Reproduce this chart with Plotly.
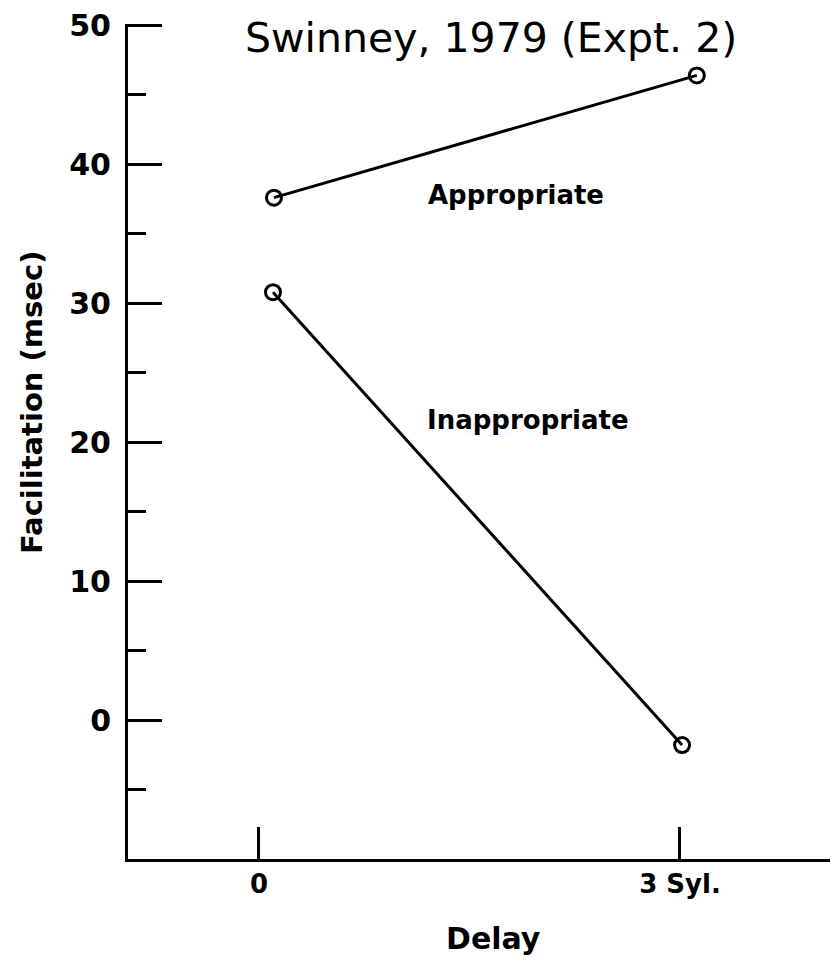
import plotly.graph_objects as go

# Delay positions as drawn (points sit slightly right of the tick marks)
appropriate_x = [0.107, 3.12]
appropriate_y = [37.6, 46.4]
inappropriate_x = [0.10, 3.015]
inappropriate_y = [30.8, -1.8]

x_tickvals = [0, 3]
x_ticktext = ["0", "3 Syl."]
y_major = [0, 10, 20, 30, 40, 50]
y_minor = [-5, 5, 15, 25, 35, 45]

FONT = "DejaVu Sans"
INK = "black"

# the page body has an 8px margin, so the figure is drawn 8px in from the corner
OFF = 8
W, H = 838 - OFF, 963 - OFF
L, R, T, B = 128 - OFF, 0, 24 - OFF, 963 - 859
pw, ph = W - L - R, H - T - B


def paper_xy(page_x, page_y):
    return (page_x - OFF - L) / pw, (H - B - (page_y - OFF)) / ph


fig = go.Figure()
for xs, ys, name in [
    (appropriate_x, appropriate_y, "Appropriate"),
    (inappropriate_x, inappropriate_y, "Inappropriate"),
]:
    fig.add_trace(
        go.Scatter(
            x=xs,
            y=ys,
            name=name,
            mode="lines+markers",
            line=dict(color=INK, width=3),
            marker=dict(symbol="circle-open", size=15, color=INK, line=dict(width=3, color=INK)),
            cliponaxis=False,
        )
    )

fig.add_annotation(x=1.83, y=37.8, text="Appropriate", showarrow=False,
                   font=dict(family=FONT, size=26, color=INK, weight="bold"))
fig.add_annotation(x=1.92, y=21.6, text="Inappropriate", showarrow=False,
                   font=dict(family=FONT, size=26, color=INK, weight="bold"))

for text, px, py, size, weight, angle in [
    ("Facilitation (msec)", 32, 403, 29, "bold", -90),
    ("Delay", 493, 938, 30, "bold", 0),
    ("Swinney, 1979 (Expt. 2)", 491, 38, 41, "normal", 0),
]:
    ax, ay = paper_xy(px, py)
    fig.add_annotation(x=ax, y=ay, xref="paper", yref="paper", text=text,
                       showarrow=False, textangle=angle,
                       xanchor="center", yanchor="middle",
                       font=dict(family=FONT, size=size, color=INK, weight=weight))

fig.update_layout(
    width=W,
    height=H,
    margin=dict(l=L, r=R, t=T, b=B),
    paper_bgcolor="white",
    plot_bgcolor="white",
    showlegend=False,
    font=dict(family=FONT, color=INK),
    xaxis=dict(
        range=[-0.933, 4.126],
        tickvals=x_tickvals,
        ticktext=x_ticktext,
        ticks="inside",
        ticklen=32,
        tickwidth=3,
        tickcolor=INK,
        tickfont=dict(family=FONT, size=26, color=INK, weight="bold"),
        showline=True,
        linecolor=INK,
        linewidth=3,
        showgrid=False,
        zeroline=False,
    ),
    yaxis=dict(
        range=[-10, 50.1],
        tickvals=y_major,
        ticks="inside",
        ticklen=34,
        tickwidth=3,
        tickcolor=INK,
        tickfont=dict(family=FONT, size=30, color=INK, weight="bold"),
        ticklabelstandoff=8,
        ticklabeloverflow="allow",
        showline=True,
        linecolor=INK,
        linewidth=3,
        showgrid=False,
        zeroline=False,
        minor=dict(tickvals=y_minor, ticks="inside", ticklen=18, tickwidth=3,
                   tickcolor=INK, showgrid=False),
    ),
)

fig.write_html("out.html")
